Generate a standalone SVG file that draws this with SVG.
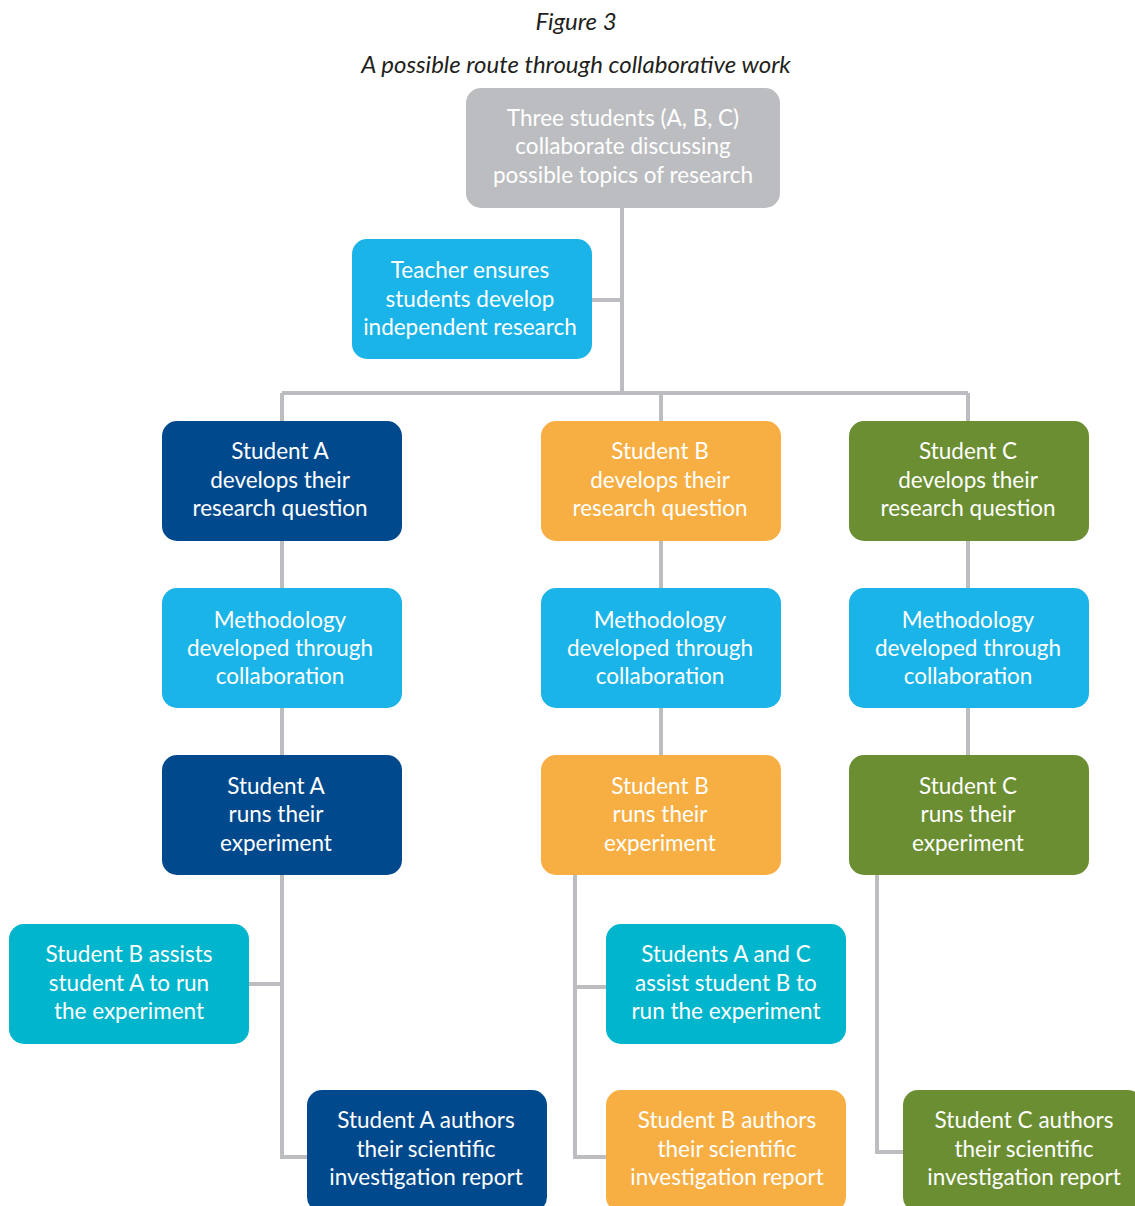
<svg xmlns="http://www.w3.org/2000/svg" width="1135" height="1206" viewBox="0 0 1135 1206">
<style>
.title{font-family:"Lato","Liberation Sans",sans-serif;font-style:italic;font-size:24px;fill:#231f20;text-anchor:middle}
.t{font-family:"Lato","Liberation Sans",sans-serif;font-size:22.5px;fill:#ffffff;text-anchor:middle}
.con{fill:none;stroke:#bcbdc0;stroke-width:4}
.grey{fill:#bcbdc0}.lb{fill:#1ab4e8}.db{fill:#00498d}.or{fill:#f7ae42}.gr{fill:#6a8e31}.teal{fill:#00b5cc}
</style>
<rect width="1135" height="1206" fill="#ffffff"/>
<text class="title" x="576" y="30">Figure 3</text>
<text class="title" x="576" y="73">A possible route through collaborative work</text>
<g id="connectors">
<path class="con" d="M622 208V393M592 300H622M282 393H968M282 393V421M661 393V421M968 393V421"/>
<path class="con" d="M282 541V588M661 541V588M968 541V588M282 708V755M661 708V755M968 708V755"/>
<path class="con" d="M282 875V1157H307M249 984H282"/>
<path class="con" d="M575 875V1157H606M575 987H606"/>
<path class="con" d="M877 875V1152H903"/>
</g>
<g id="top"><rect class="grey" x="466" y="88" width="314" height="120" rx="15"/>
<text class="t" x="623" y="126">Three students (A, B, C)</text><text class="t" x="623" y="154">collaborate discussing</text><text class="t" x="623" y="183">possible topics of research</text></g>
<g id="teacher"><rect class="lb" x="352" y="239" width="240" height="120" rx="15"/>
<text class="t" x="470" y="278">Teacher ensures</text><text class="t" x="470" y="307">students develop</text><text class="t" x="470" y="335">independent research</text></g>

<g id="a1"><rect class="db" x="162" y="421" width="240" height="120" rx="15"/>
<text class="t" x="280" y="459">Student A</text><text class="t" x="280" y="488">develops their</text><text class="t" x="280" y="516">research question</text></g>
<g id="b1"><rect class="or" x="541" y="421" width="240" height="120" rx="15"/>
<text class="t" x="660" y="459">Student B</text><text class="t" x="660" y="488">develops their</text><text class="t" x="660" y="516">research question</text></g>
<g id="c1"><rect class="gr" x="849" y="421" width="240" height="120" rx="15"/>
<text class="t" x="968" y="459">Student C</text><text class="t" x="968" y="488">develops their</text><text class="t" x="968" y="516">research question</text></g>

<g id="a2"><rect class="lb" x="162" y="588" width="240" height="120" rx="15"/>
<text class="t" x="280" y="628">Methodology</text><text class="t" x="280" y="656">developed through</text><text class="t" x="280" y="684">collaboration</text></g>
<g id="b2"><rect class="lb" x="541" y="588" width="240" height="120" rx="15"/>
<text class="t" x="660" y="628">Methodology</text><text class="t" x="660" y="656">developed through</text><text class="t" x="660" y="684">collaboration</text></g>
<g id="c2"><rect class="lb" x="849" y="588" width="240" height="120" rx="15"/>
<text class="t" x="968" y="628">Methodology</text><text class="t" x="968" y="656">developed through</text><text class="t" x="968" y="684">collaboration</text></g>

<g id="a3"><rect class="db" x="162" y="755" width="240" height="120" rx="15"/>
<text class="t" x="276" y="794">Student A</text><text class="t" x="276" y="822">runs their</text><text class="t" x="276" y="851">experiment</text></g>
<g id="b3"><rect class="or" x="541" y="755" width="240" height="120" rx="15"/>
<text class="t" x="660" y="794">Student B</text><text class="t" x="660" y="822">runs their</text><text class="t" x="660" y="851">experiment</text></g>
<g id="c3"><rect class="gr" x="849" y="755" width="240" height="120" rx="15"/>
<text class="t" x="968" y="794">Student C</text><text class="t" x="968" y="822">runs their</text><text class="t" x="968" y="851">experiment</text></g>

<g id="a4"><rect class="teal" x="9" y="924" width="240" height="120" rx="15"/>
<text class="t" x="129" y="962">Student B assists</text><text class="t" x="129" y="991">student A to run</text><text class="t" x="129" y="1019">the experiment</text></g>
<g id="b4"><rect class="teal" x="606" y="924" width="240" height="120" rx="15"/>
<text class="t" x="726" y="962">Students A and C</text><text class="t" x="726" y="991">assist student B to</text><text class="t" x="726" y="1019">run the experiment</text></g>

<g id="a5"><rect class="db" x="307" y="1090" width="240" height="122" rx="15"/>
<text class="t" x="426" y="1128">Student A authors</text><text class="t" x="426" y="1157">their scientific</text><text class="t" x="426" y="1185">investigation report</text></g>
<g id="b5"><rect class="or" x="606" y="1090" width="240" height="122" rx="15"/>
<text class="t" x="727" y="1128">Student B authors</text><text class="t" x="727" y="1157">their scientific</text><text class="t" x="727" y="1185">investigation report</text></g>
<g id="c5"><rect class="gr" x="903" y="1090" width="240" height="122" rx="15"/>
<text class="t" x="1024" y="1128">Student C authors</text><text class="t" x="1024" y="1157">their scientific</text><text class="t" x="1024" y="1185">investigation report</text></g>
</svg>
